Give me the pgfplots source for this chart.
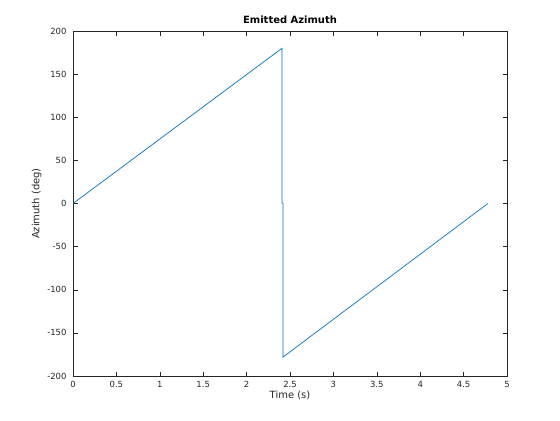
\documentclass[border=0pt]{standalone}
\usepackage{pgfplots}
\pgfplotsset{compat=1.18}
\usepackage{fontspec}
\setmainfont{DejaVu Sans}
\definecolor{mlblue}{rgb}{0,0.447,0.741}
\definecolor{mlgray}{rgb}{0.15,0.15,0.15}
\begin{document}
\begin{tikzpicture}[x=1bp,y=1bp]
\path[use as bounding box] (0,0) rectangle (560,420);
\begin{axis}[
  at={(73bp,44bp)}, anchor=south west,
  scale only axis, width=434bp, height=345bp,
  xmin=0, xmax=5, ymin=-200, ymax=200,
  xtick={0,0.5,...,5}, ytick={-200,-150,...,200},
  xticklabels={0,0.5,1,1.5,2,2.5,3,3.5,4,4.5,5},
  tick align=inside, tick pos=both,
  major tick length=4.5bp,
  axis line style={mlgray, line width=0.5pt},
  every tick/.style={mlgray, line width=0.5pt},
  /pgf/number format/assume math mode=true,
  ticklabel style={font=\fontsize{8.5}{10}\selectfont, text=mlgray},
  xticklabel style={yshift=-2bp},
  yticklabel style={xshift=-3bp},
  title={\textbf{Emitted Azimuth}},
  title style={font=\fontsize{10}{12}\selectfont, yshift=-2bp},
  xlabel={Time (s)}, ylabel={Azimuth (deg)},
  label style={font=\fontsize{10}{12}\selectfont, text=mlgray},
  xlabel style={yshift=4bp},
  ylabel style={yshift=-1bp},
]
\addplot[mlblue, line width=0.7pt] coordinates {
  (0,0) (2.408,180) (2.408,1) (2.42,0) (2.42,-178) (4.78,0)
};
\end{axis}
\end{tikzpicture}
\end{document}
